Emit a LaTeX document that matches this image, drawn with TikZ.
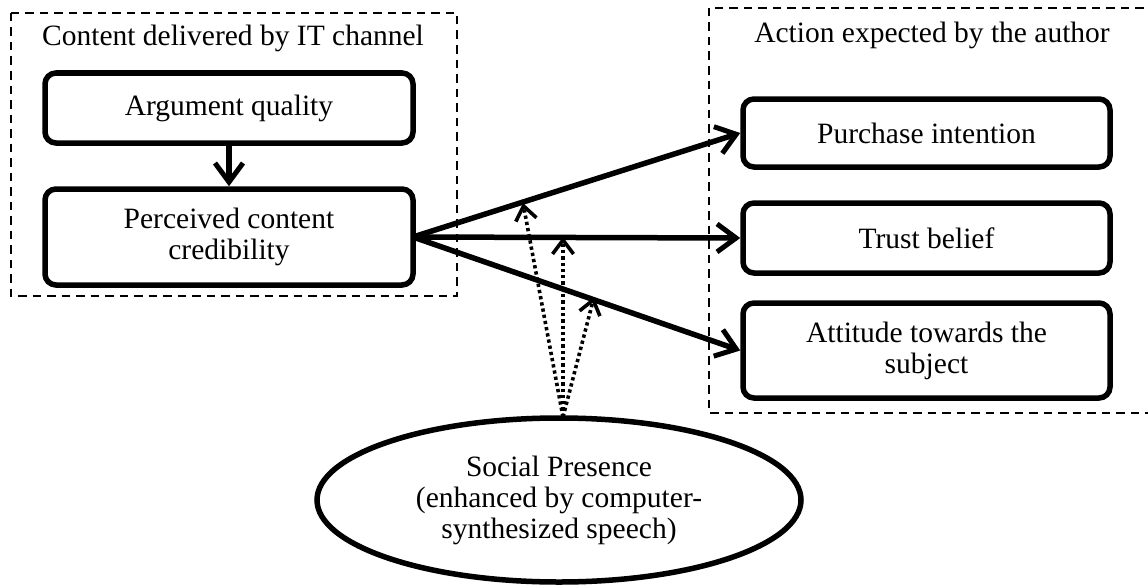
\documentclass[tikz,border=0pt]{standalone}
\usepackage{fontspec}
\setmainfont{Liberation Serif}
\usetikzlibrary{arrows.meta,shapes.geometric}
\begin{document}
\begin{tikzpicture}[x=1pt,y=-1pt,
  every node/.style={font=\fontsize{29.5}{31}\selectfont, align=center},
  group/.style={draw, line width=2.6pt, dash pattern=on 8.5pt off 6pt},
  box/.style={draw, line width=5.5pt, rounded corners=11pt, inner sep=0pt},
  solidarrow/.style={line width=5.5pt, -{Straight Barb[length=19pt,width=28pt,line width=5pt]}},
  dotarrow/.style={line width=3.6pt, dash pattern=on 3.3pt off 3pt, -{Straight Barb[length=14pt,width=21pt,line width=3.6pt,sep=0pt]}}]
\useasboundingbox (0,0) rectangle (1148,586);
% groups
\draw[group] (11,13) rectangle (457,296);
\draw[group] (709,8) rectangle (1152,413);
\node (t1) at (233,38) {Content delivered by IT channel};
\node (t2) at (932,35) {Action expected by the author};
% left boxes
\node[box, minimum width=368pt, minimum height=70pt] (aq) at (229,108) {Argument quality};
\node[box, minimum width=368pt, minimum height=96pt] (pc) at (229,237) {Perceived content\\credibility};
% right boxes
\node[box, minimum width=367pt, minimum height=68pt] (pi) at (926.5,133) {Purchase intention};
\node[box, minimum width=367pt, minimum height=70pt] (tb) at (926.5,238) {Trust belief};
\node[box, minimum width=367pt, minimum height=95pt] (at) at (926.5,350.5) {Attitude towards the\\subject};
% ellipse
\node[draw, ellipse, line width=5.5pt, minimum width=484pt, minimum height=164pt, inner sep=0pt] (sp) at (559,500) {Social Presence\\(enhanced by computer-\\synthesized speech)};
% arrows
\draw[solidarrow] (aq.south) -- (pc.north);
\coordinate (src) at (413,237);
\draw[solidarrow] (src) -- (pi.west);
\draw[solidarrow] (src) -- (tb.west);
\draw[solidarrow] (src) -- (at.west);
\coordinate (m1) at (523,203);
\coordinate (m2) at (563,237);
\coordinate (m3) at (594,297);
\coordinate (base) at (563,417);
\draw[dotarrow] (base) -- (m1);
\draw[dotarrow] (base) -- (m2);
\draw[dotarrow] (base) -- (m3);
\end{tikzpicture}
\end{document}
